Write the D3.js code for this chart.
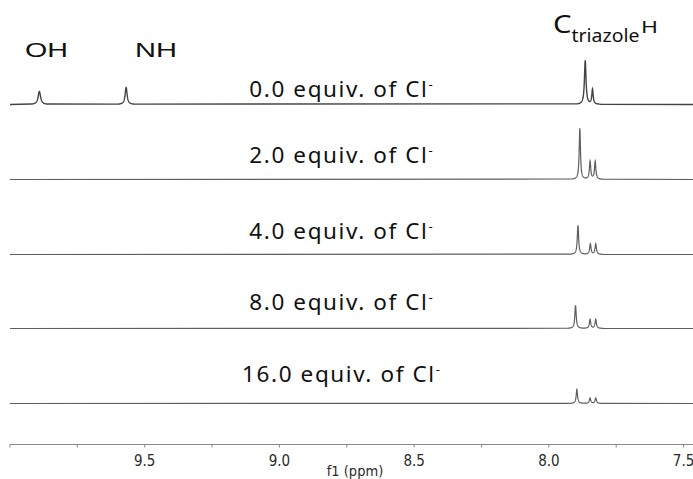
<!DOCTYPE html>
<html>
<head>
<meta charset="utf-8">
<script src="https://cdn.jsdelivr.net/npm/d3@7/dist/d3.min.js"></script>
<style>
  body { margin: 0; background: #fff; }
</style>
</head>
<body>
<div id="nmr"></div>
<script>
// set up svg
var svgWidth = 693;
var svgHeight = 479;

// data: one spectrum per amount of chloride
var equivs = ['0.0', '2.0', '4.0', '8.0', '16.0'];
// peak positions (ppm), heights (arb.) and half widths (ppm)
var peakShifts = [
    [9.891, 9.569, 7.865, 7.838],
    [7.885, 7.847, 7.828],
    [7.892, 7.846, 7.826],
    [7.901, 7.847, 7.826],
    [7.896, 7.847, 7.826]
];
var peakHeights = [
    [13, 17, 44, 15],
    [51, 18, 18],
    [29, 10.5, 10.5],
    [23, 9, 9],
    [14, 5.5, 5.5]
];
var peakWidths = [
    [0.0055, 0.0045, 0.0035, 0.003],
    [0.0028, 0.003, 0.003],
    [0.003, 0.003, 0.003],
    [0.003, 0.003, 0.003],
    [0.003, 0.003, 0.003]
];
var majorTicks = [9.5, 9.0, 8.5, 8.0, 7.5];
var minorTicks = [10.0, 9.75, 9.25, 8.75, 8.25, 7.75];

var svg = d3.select('#nmr')
    .append('svg')
    .attr('width', svgWidth)
    .attr('height', svgHeight);

// scales
var x = d3.scaleLinear()
    .domain([10.0, 7.465])
    .range([10, 693]);

var baseY = d3.scalePoint()
    .domain(equivs)
    .range([104, 403]);

var yInt = d3.scaleLinear()
    .domain([0, 51])
    .range([0, 51]);

// sample the trace from the peak list (lorentzian lines),
// fine steps only around the peaks
function trace(i) {
    var pts = [x.domain()[0], x.domain()[1]];
    peakShifts[i].forEach(function(p) {
        d3.range(-60, 61).forEach(function(k) { pts.push(p + k * 0.0005); });
    });
    pts.sort(d3.descending);
    return pts.map(function(s) {
        var v = 0;
        peakShifts[i].forEach(function(p, j) {
            var g = peakWidths[i][j];
            v += peakHeights[i][j] * g * g / ((s - p) * (s - p) + g * g);
        });
        return [s, v];
    });
}

equivs.forEach(function(eq, i) {
    var b = Math.round(baseY(eq)) + 0.5;
    var line = d3.line()
        .x(function(d) { return x(d[0]); })
        .y(function(d) { return b - yInt(d[1]); });
    svg.append('path')
        .datum(trace(i))
        .attr('d', line)
        .attr('fill', 'none')
        .attr('stroke', i === 0 ? '#444' : '#5e5e5e')
        .attr('stroke-width', i === 0 ? 1.4 : 1.2);
});

// equiv labels
var labelLift = [7.3, 15.5, 15, 17.8, 21.3];
var labels = svg.selectAll('.eqlabel')
    .data(equivs)
    .enter()
    .append('text')
    .attr('class', 'eqlabel')
    .attr('x', 341)
    .attr('y', function(d, i) { return baseY(d) - labelLift[i]; })
    .attr('text-anchor', 'middle')
    .style('font-family', '"Noto Sans", sans-serif')
    .style('font-size', '22.5px')
    .style('letter-spacing', '1.6px')
    .attr('fill', '#111');
labels.append('tspan').text(function(d) { return d + ' equiv. of Cl'; });
labels.append('tspan')
    .attr('dy', -8)
    .style('font-size', '13px')
    .style('letter-spacing', '0px')
    .text('-');

// peak labels
function label(txt, x0, y0, size, len, family) {
    return svg.append('text')
        .attr('x', x0).attr('y', y0)
        .attr('textLength', len).attr('lengthAdjust', 'spacingAndGlyphs')
        .style('font-family', family)
        .style('font-size', size + 'px')
        .attr('fill', '#111')
        .text(txt);
}
var arial = '"Liberation Sans", Arial, sans-serif';
var noto = '"Noto Sans", sans-serif';
label('OH', 25, 56.7, 21, 43, arial);
label('NH', 135, 56.7, 21, 42, arial);
label('C', 553, 33.3, 25, 18.5, noto);
label('triazole', 571.5, 41.7, 18, 68, noto);
label('H', 641, 33.3, 17, 17, noto);

// axis
var axisY = 444.5;
svg.append('line')
    .attr('x1', 10).attr('x2', 693)
    .attr('y1', axisY).attr('y2', axisY)
    .attr('stroke', '#8a8a8a').attr('stroke-width', 1.2);

svg.selectAll('.tickmark')
    .data(majorTicks.concat(minorTicks))
    .enter()
    .append('line')
    .attr('class', 'tickmark')
    .attr('x1', d => x(d)).attr('x2', d => x(d))
    .attr('y1', axisY).attr('y2', axisY + 3)
    .attr('stroke', '#8a8a8a');

svg.selectAll('.ticklabel')
    .data(majorTicks)
    .enter()
    .append('text')
    .attr('class', 'ticklabel')
    .attr('x', d => x(d))
    .attr('y', 465.5)
    .attr('text-anchor', 'middle')
    .style('font-family', '"Liberation Sans Narrow", "DejaVu Sans Condensed", sans-serif')
    .style('font-size', '15px')
    .attr('fill', '#2a2a2a')
    .text(d => d.toFixed(1));

svg.append('text')
    .attr('x', 355)
    .attr('y', 475.5)
    .attr('text-anchor', 'middle')
    .style('font-family', '"Liberation Sans Narrow", "DejaVu Sans Condensed", sans-serif')
    .style('font-size', '14.5px')
    .attr('fill', '#2a2a2a')
    .text('f1 (ppm)');
</script>
</body>
</html>
